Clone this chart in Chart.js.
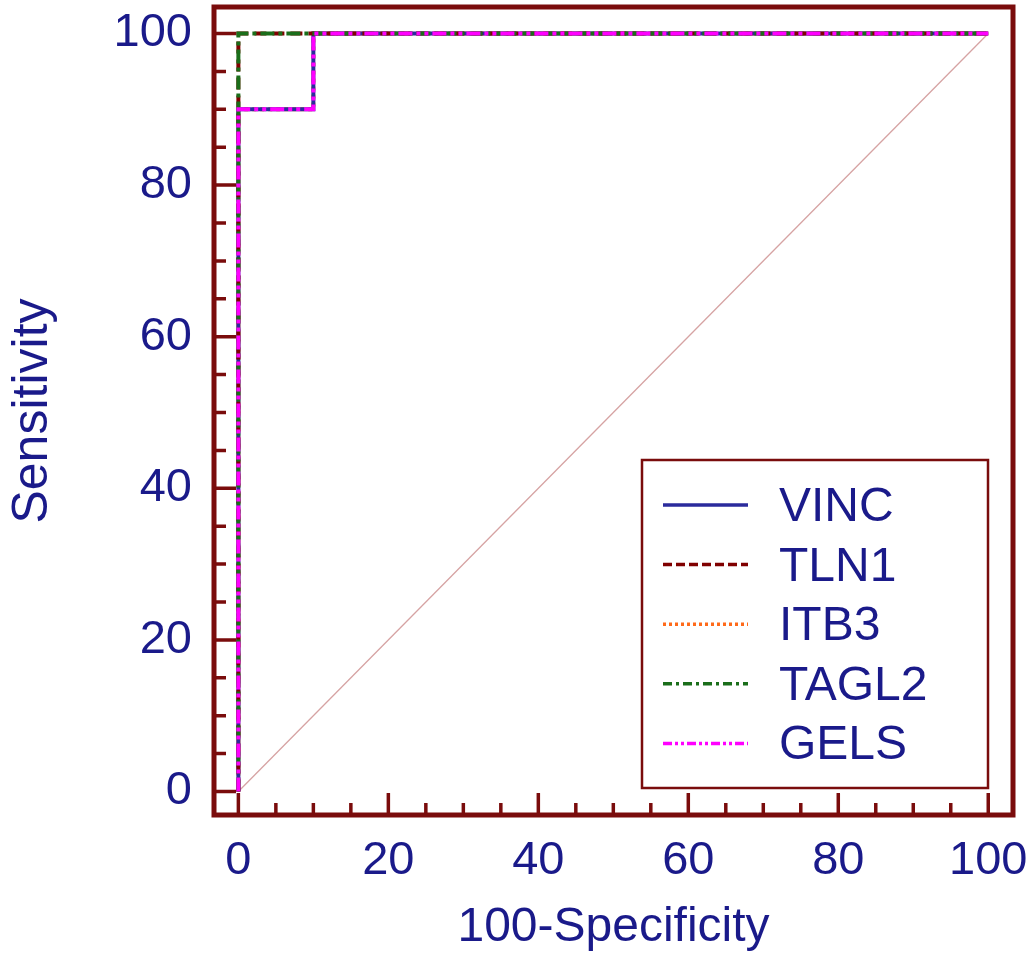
<!DOCTYPE html>
<html>
<head>
<meta charset="utf-8">
<script src="https://cdn.jsdelivr.net/npm/chart.js@4.4.1/dist/chart.umd.min.js"></script>
<style>
  body { margin: 0; background: #fff; }
  canvas { display: block; }
</style>
</head>
<body>
<canvas id="roc" width="1031" height="962"></canvas>
<script>
// data
const seriesNames = ['VINC', 'TLN1', 'ITB3', 'TAGL2', 'GELS'];
const vincX = [0, 0, 10, 10, 100];
const vincY = [0, 90, 90, 100, 100];
const tln1X = [0, 0, 100];
const tln1Y = [0, 100, 100];
const itb3X = [0, 0, 10, 10, 100];
const itb3Y = [0, 90, 90, 100, 100];
const tagl2X = [0, 0, 100];
const tagl2Y = [0, 100, 100];
const gelsX = [0, 0, 10, 10, 100];
const gelsY = [0, 90, 90, 100, 100];
const refX = [0, 100];
const refY = [0, 100];

const majorTicks = [0, 20, 40, 60, 80, 100];
const minorTicks = [5, 10, 15, 25, 30, 35, 45, 50, 55, 65, 70, 75, 85, 90, 95];

const FRAME = '#7a0c0c';
const NAVY = '#1a1a8a';
const FONT = "'Liberation Sans', Arial, sans-serif";

function pts(xs, ys) {
  return xs.map((x, i) => ({ x: x, y: ys[i] }));
}

// line styles: curve dash and (finer) legend dash
const styles = {
  VINC:  { color: '#2b2b9c', dash: [], legDash: [] },
  TLN1:  { color: '#800000', dash: [12, 6], legDash: [9, 4] },
  ITB3:  { color: '#ff6a1a', dash: [4, 4], legDash: [3, 3] },
  TAGL2: { color: '#1a6e1a', dash: [14, 4, 4, 4], legDash: [9, 4, 3, 4] },
  GELS:  { color: '#ff00ff', dash: [14, 4, 4, 4, 4, 4], legDash: [9, 3, 3, 3, 3, 3] }
};

function curve(name, xs, ys, order) {
  return {
    label: name,
    data: pts(xs, ys),
    showLine: true,
    borderColor: styles[name].color,
    borderDash: styles[name].dash,
    borderWidth: 4,
    pointRadius: 0,
    fill: false,
    order: order
  };
}

// inward ticks + heavy frame
const framePlugin = {
  id: 'frame',
  afterDraw(chart) {
    const { ctx, chartArea: a, scales: { x, y } } = chart;
    ctx.save();
    ctx.strokeStyle = FRAME;
    ctx.lineCap = 'butt';
    ctx.lineWidth = 3.5;
    ctx.beginPath();
    majorTicks.forEach(v => {
      const px = x.getPixelForValue(v);
      ctx.moveTo(px, a.bottom);
      ctx.lineTo(px, a.bottom - 22);
      const py = y.getPixelForValue(v);
      ctx.moveTo(a.left, py);
      ctx.lineTo(a.left + 22, py);
    });
    minorTicks.forEach(v => {
      const px = x.getPixelForValue(v);
      ctx.moveTo(px, a.bottom);
      ctx.lineTo(px, a.bottom - 12);
      const py = y.getPixelForValue(v);
      ctx.moveTo(a.left, py);
      ctx.lineTo(a.left + 12, py);
    });
    ctx.stroke();
    ctx.lineWidth = 5;
    ctx.strokeRect(a.left, a.top, a.right - a.left, a.bottom - a.top);
    ctx.restore();
  }
};

// legend box inside the plot, bottom right
const legendPlugin = {
  id: 'insideLegend',
  afterDraw(chart) {
    const { ctx } = chart;
    const box = { l: 642, t: 460, r: 988, b: 788 };
    ctx.save();
    ctx.fillStyle = '#fff';
    ctx.fillRect(box.l, box.t, box.r - box.l, box.b - box.t);
    ctx.strokeStyle = FRAME;
    ctx.lineWidth = 2.5;
    ctx.strokeRect(box.l, box.t, box.r - box.l, box.b - box.t);
    ctx.font = '48px ' + FONT;
    ctx.textBaseline = 'alphabetic';
    ctx.textAlign = 'left';
    seriesNames.forEach((name, i) => {
      const rowY = 505 + i * 59.6;
      const s = styles[name];
      ctx.strokeStyle = s.color;
      ctx.lineWidth = 3.5;
      ctx.setLineDash(s.legDash);
      ctx.beginPath();
      ctx.moveTo(663, rowY);
      ctx.lineTo(748, rowY);
      ctx.stroke();
      ctx.setLineDash([]);
      ctx.fillStyle = NAVY;
      ctx.fillText(name, 779, rowY + 16);
    });
    ctx.restore();
  }
};

new Chart(document.getElementById('roc').getContext('2d'), {
  type: 'scatter',
  data: {
    datasets: [
      {
        label: 'ref',
        data: pts(refX, refY),
        showLine: true,
        borderColor: '#d6a3a3',
        borderWidth: 1.3,
        pointRadius: 0,
        order: 10
      },
      curve('ITB3', itb3X, itb3Y, 6),
      curve('VINC', vincX, vincY, 5),
      curve('TLN1', tln1X, tln1Y, 4),
      curve('TAGL2', tagl2X, tagl2Y, 3),
      curve('GELS', gelsX, gelsY, 2)
    ]
  },
  options: {
    responsive: false,
    animation: false,
    layout: { padding: { top: 7, right: 18, left: 0, bottom: 0 } },
    plugins: {
      legend: { display: false },
      tooltip: { enabled: false }
    },
    scales: {
      x: {
        type: 'linear',
        min: -3.25,
        max: 103.3,
        afterBuildTicks: s => { s.ticks = majorTicks.map(v => ({ value: v })); },
        afterFit: s => {
          s.height = 147;
          s.paddingLeft = 0;
          s.paddingRight = 0;
        },
        grid: { display: false, drawTicks: false },
        border: { display: false },
        ticks: {
          color: NAVY,
          padding: 18,
          maxRotation: 0,
          font: { family: FONT, size: 47 }
        },
        title: {
          display: true,
          text: '100-Specificity',
          color: NAVY,
          font: { family: FONT, size: 48 },
          padding: { top: 0, bottom: 5 }
        }
      },
      y: {
        type: 'linear',
        min: -3.1,
        max: 103.5,
        afterBuildTicks: s => { s.ticks = majorTicks.map(v => ({ value: v })); },
        afterFit: s => {
          s.width = 214;
          s.paddingTop = 0;
          s.paddingBottom = 0;
        },
        grid: { display: false, drawTicks: false },
        border: { display: false },
        ticks: {
          color: NAVY,
          padding: 22,
          font: { family: FONT, size: 47 }
        },
        title: {
          display: true,
          text: 'Sensitivity',
          color: NAVY,
          font: { family: FONT, size: 50 },
          padding: { top: 3, bottom: 0 }
        }
      }
    }
  },
  plugins: [framePlugin, legendPlugin]
});
</script>
</body>
</html>
